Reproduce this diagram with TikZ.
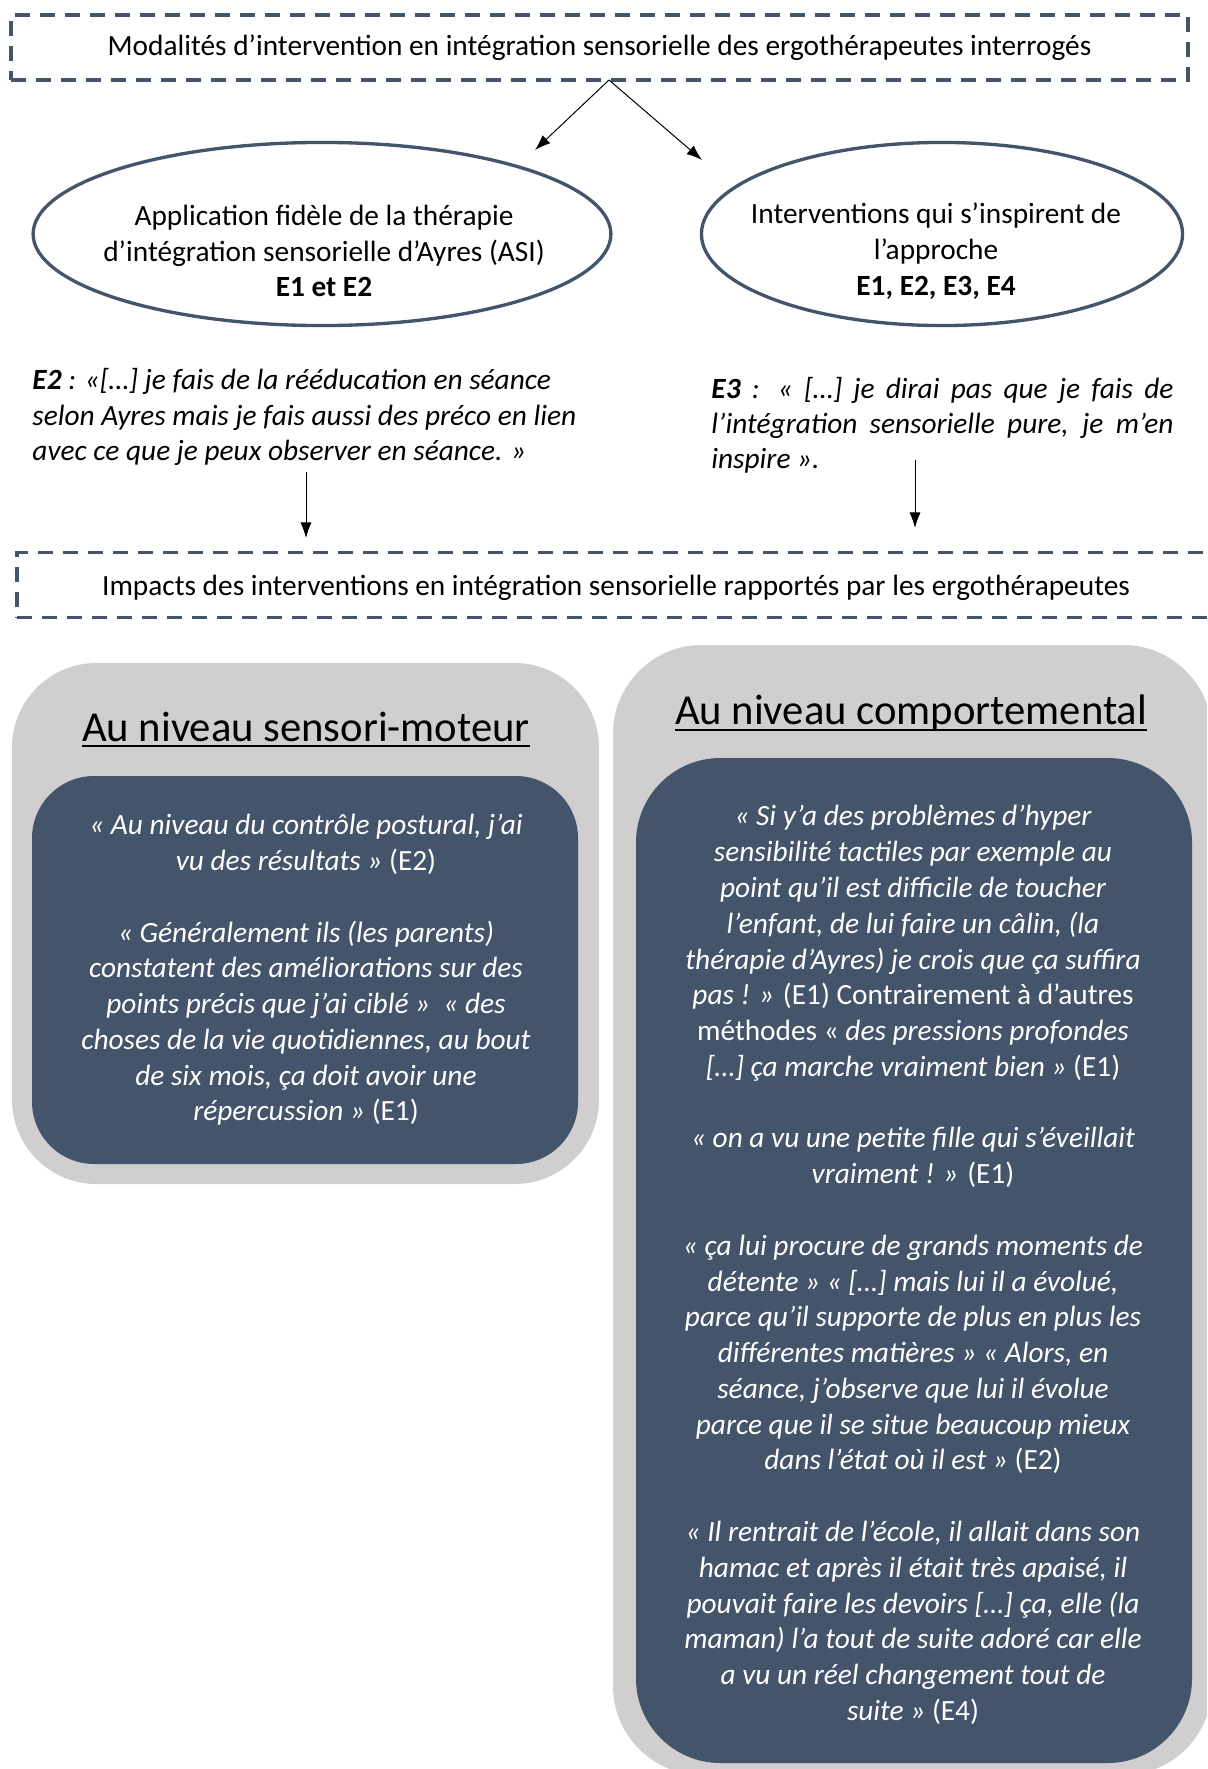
\documentclass[tikz,border=0pt]{standalone}
\usepackage{fontspec}
\setmainfont{Carlito}
\usetikzlibrary{shapes.geometric,arrows.meta}
\definecolor{slate}{HTML}{44546A}
\definecolor{panelgray}{HTML}{D0CECE}

\begin{document}
\begin{tikzpicture}[x=0.45pt,y=-0.45pt,
  body/.style={font={\fontsize{13.2pt}{16.1pt}\selectfont}, inner sep=0pt},
  dashbox/.style={draw=slate, line width=1.6pt, dash pattern=on 6.75pt off 4.5pt,
                  inner sep=0pt, body, minimum height=29.25pt},
  oval/.style={ellipse, draw=slate, line width=1.5pt, fill=white, minimum height=82.4pt},
  ovaltext/.style={body, align=center},
  citation/.style={inner sep=0pt, align=left, anchor=west,
                   font={\fontsize{13.2pt}{15.8pt}\selectfont\itshape}},
  arr/.style={-{Latex[length=7pt,width=5pt]}, line width=0.45pt, black},
  panel/.style={fill=panelgray},
  card/.style={fill=slate},
  quote/.style={inner sep=0pt, text=white, align=center,
                font={\fontsize{13.2pt}{16.1pt}\selectfont\itshape}},
  heading/.style={font={\fontsize{19.2pt}{23pt}\selectfont}, inner sep=0pt, anchor=base},
  underl/.style={line width=0.9pt, black},
]
\clip (0,0) rectangle (1207,1769);

% header box
\node[dashbox, minimum width=529.65pt] (top) at (599.5,47.5)
  {\raisebox{-3.6pt}[0pt][0pt]{Modalités d’intervention en intégration sensorielle des ergothérapeutes interrogés}};

% two ways of intervening
\node[oval, minimum width=260pt] (asi) at (322,234) {};
\node[oval, minimum width=216.5pt] (insp) at (942,234) {};
\node[ovaltext] (asitxt) at (324,251)
  {Application fidèle de la thérapie\\ d’intégration sensorielle d’Ayres (ASI)\\ \textbf{E1 et E2}};
\node[ovaltext] (insptxt) at (936,251)
  {Interventions qui s’inspirent de\\ l’approche\\ \textbf{E1, E2, E3, E4}};

\coordinate (fork) at (609,80);
\coordinate (forkL) at (535,150);
\coordinate (forkR) at (702,160);
\draw[arr] (fork) -- (forkL);
\draw[arr] (fork) -- (forkR);

% citations
\node[citation] (citeE2) at (32,417)
  {\textbf{E2} : «[…] je fais de la rééducation en séance\\
   selon Ayres mais je fais aussi des préco en lien\\
   avec ce que je peux observer en séance. »};
\node[citation] (citeE3) at (711,425)
  {\makebox[207.9pt][s]{\textbf{E3} : « […] je dirai pas que je fais de}\\
   \makebox[207.9pt][s]{l’intégration sensorielle pure, je m’en}\\
   inspire ».};

\coordinate (dropL1) at (306,472);
\coordinate (dropL2) at (306,538);
\coordinate (dropR1) at (915,460);
\coordinate (dropR2) at (915,528);
\draw[arr] (dropL1) -- (dropL2);
\draw[arr] (dropR1) -- (dropR2);

% second header box
\node[dashbox, minimum width=539.1pt] (impacts) at (616,585)
  {\raisebox{-4.5pt}[0pt][0pt]{Impacts des interventions en intégration sensorielle rapportés par les ergothérapeutes}};

% sensori-motor panel
\fill[panel, rounded corners=38pt] (12,663) rectangle (599,1184);
\fill[card, rounded corners=28pt] (32,776) rectangle (578,1164);
\node[heading] (sm) at (306,741) {Au niveau sensori-moteur};
\draw[underl] ([yshift=-2.2pt]sm.base west) -- ([yshift=-2.2pt]sm.base east);
\node[quote] (smq) at (306,970)
  {« Au niveau du contrôle postural, j’ai\\
   vu des résultats » \textup{(E2)}\\[16.1pt]
   « Généralement ils (les parents)\\
   constatent des améliorations sur des\\
   points précis que j’ai ciblé »~ « des\\
   choses de la vie quotidiennes, au bout\\
   de six mois, ça doit avoir une\\
   répercussion » \textup{(E1)}};

% behavioural panel
\fill[panel, rounded corners=40pt] (613,645) rectangle (1212,1775);
\fill[card, rounded corners=38pt] (636,758) rectangle (1192,1763);
\node[heading] (bh) at (911,724) {Au niveau comportemental};
\draw[underl] ([yshift=-2.6pt]bh.base west) -- ([yshift=-2.6pt]bh.base east);
\node[quote] (bhq) at (913,1265)
  {« Si y’a des problèmes d’hyper\\
   sensibilité tactiles par exemple au\\
   point qu’il est difficile de toucher\\
   l’enfant, de lui faire un câlin, (la\\
   thérapie d’Ayres) je crois que ça suffira\\
   pas ! » \textup{(E1) Contrairement à d’autres}\\
   \textup{méthodes «} des pressions profondes\\
   {[…]} ça marche vraiment bien » \textup{(E1)}\\[16.1pt]
   « on a vu une petite fille qui s’éveillait\\
   vraiment ! » \textup{(E1)}\\[16.1pt]
   « ça lui procure de grands moments de\\
   détente » « […] mais lui il a évolué,\\
   parce qu’il supporte de plus en plus les\\
   différentes matières » « Alors, en\\
   séance, j’observe que lui il évolue\\
   parce que il se situe beaucoup mieux\\
   dans l’état où il est » \textup{(E2)}\\[16.1pt]
   « Il rentrait de l’école, il allait dans son\\
   hamac et après il était très apaisé, il\\
   pouvait faire les devoirs […] ça, elle (la\\
   maman) l’a tout de suite adoré car elle\\
   a vu un réel changement tout de\\
   suite » \textup{(E4)}};
\end{tikzpicture}
\end{document}
